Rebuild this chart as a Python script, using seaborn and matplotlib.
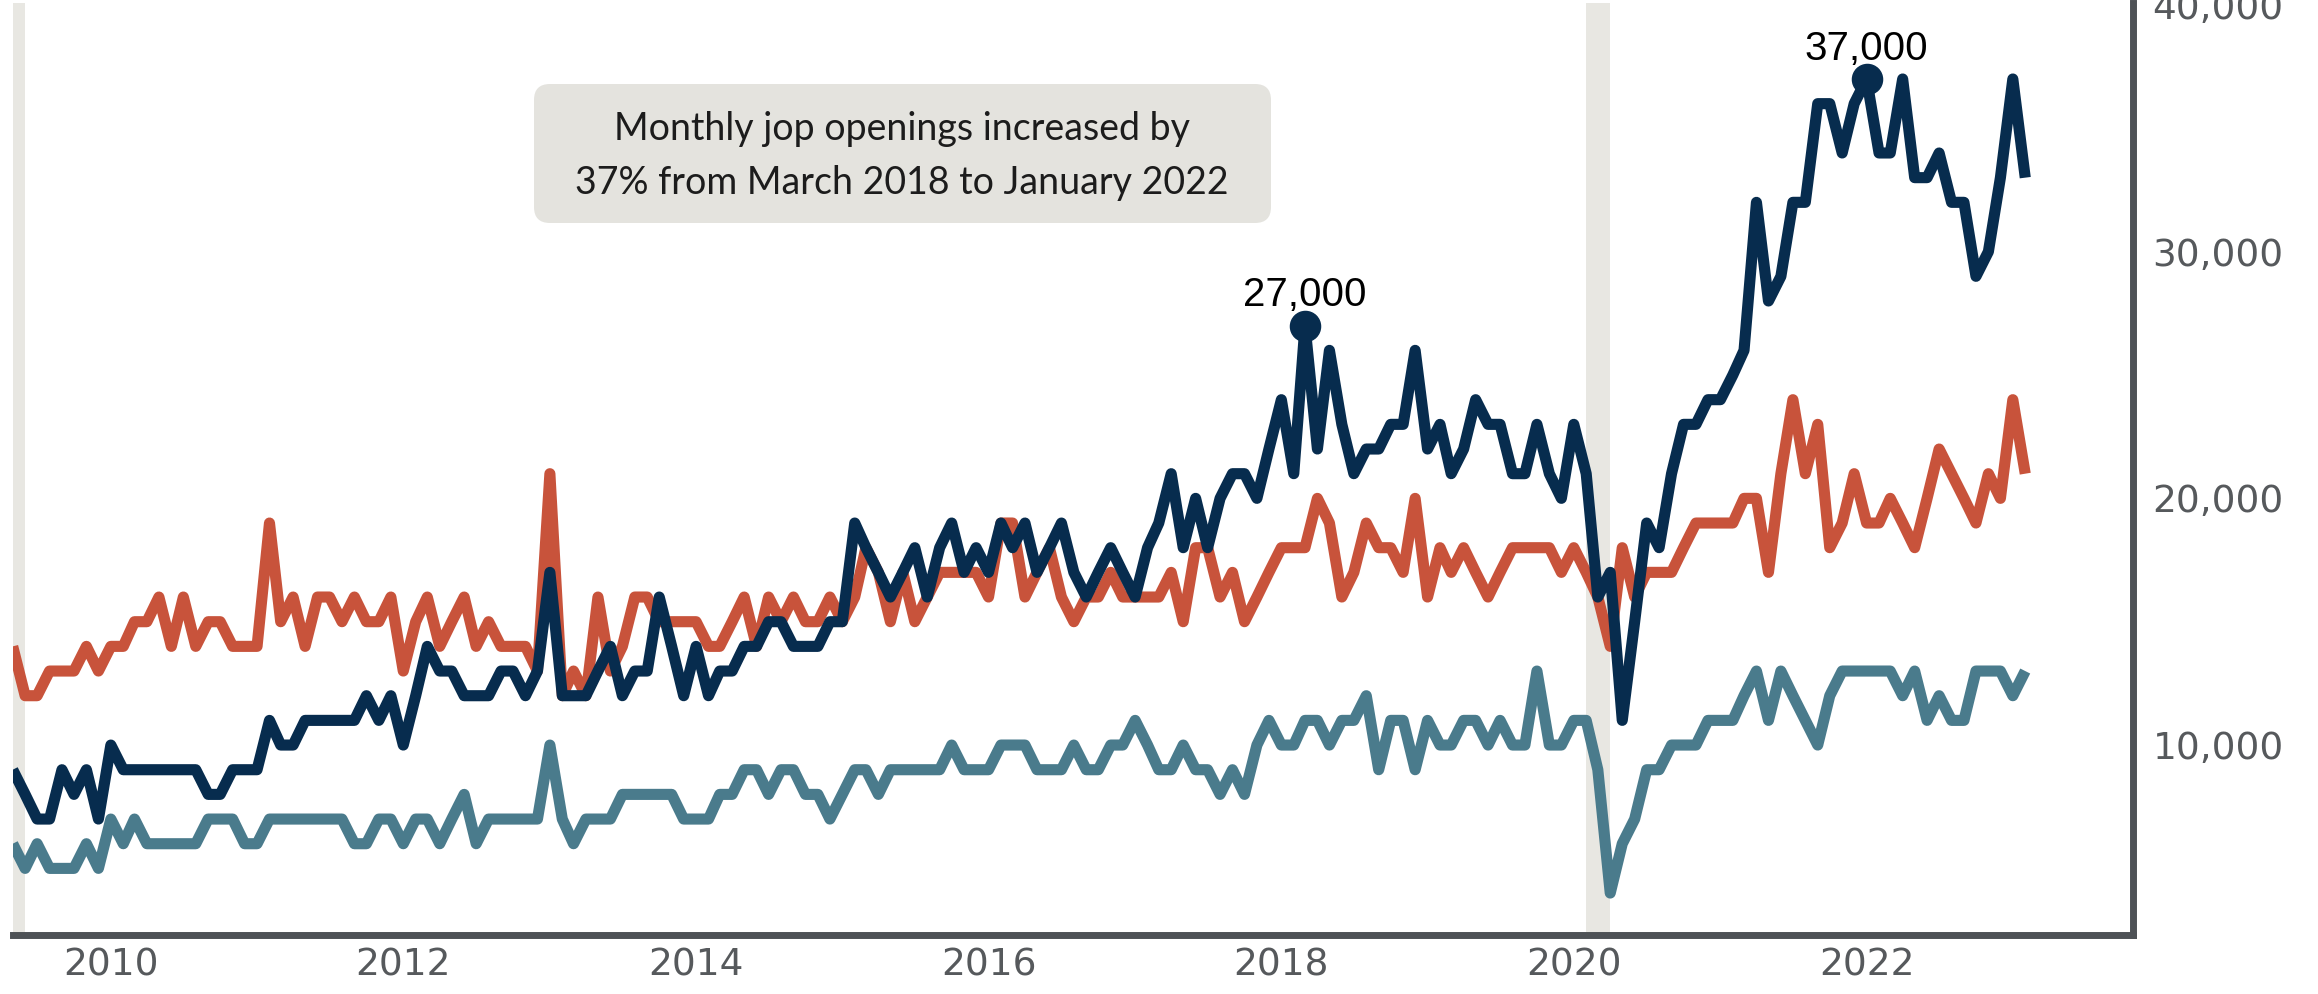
# Monthly job openings, three series, recreated with seaborn
import matplotlib
matplotlib.use("Agg")
import pandas as pd
import matplotlib.pyplot as plt
import seaborn as sns
from matplotlib.patches import FancyBboxPatch
from matplotlib.transforms import IdentityTransform

# ---- data (thousands of openings, monthly from May 2009) ----
start_month = "2009-05-01"

openings_total = [
    9, 8, 7, 7, 9, 8, 9, 7,                      # 2009 May-Dec
    10, 9, 9, 9, 9, 9, 9, 9, 8, 8, 9, 9,          # 2010
    9, 11, 10, 10, 11, 11, 11, 11, 11, 12, 11, 12,  # 2011
    10, 12, 14, 13, 13, 12, 12, 12, 13, 13, 12, 13,  # 2012
    17, 12, 12, 12, 13, 14, 12, 13, 13, 16, 14, 12,  # 2013
    14, 12, 13, 13, 14, 14, 15, 15, 14, 14, 14, 15,  # 2014
    15, 19, 18, 17, 16, 17, 18, 16, 18, 19, 17, 18,  # 2015
    17, 19, 18, 19, 17, 18, 19, 17, 16, 17, 18, 17,  # 2016
    16, 18, 19, 21, 18, 20, 18, 20, 21, 21, 20, 22,  # 2017
    24, 21, 27, 22, 26, 23, 21, 22, 22, 23, 23, 26,  # 2018
    22, 23, 21, 22, 24, 23, 23, 21, 21, 23, 21, 20,  # 2019
    23, 21, 16, 17, 11, 15, 19, 18, 21, 23, 23, 24,  # 2020
    24, 25, 26, 32, 28, 29, 32, 32, 36, 36, 34, 36,  # 2021
    37, 34, 34, 37, 33, 33, 34, 32, 32, 29, 30, 33,  # 2022
    37, 33,                                       # 2023
]

openings_b = [
    14, 12, 12, 13, 13, 13, 14, 13,
    14, 14, 15, 15, 16, 14, 16, 14, 15, 15, 14, 14,
    14, 19, 15, 16, 14, 16, 16, 15, 16, 15, 15, 16,
    13, 15, 16, 14, 15, 16, 14, 15, 14, 14, 14, 13,
    21, 12, 13, 12, 16, 13, 14, 16, 16, 15, 15, 15,
    15, 14, 14, 15, 16, 14, 16, 15, 16, 15, 15, 16,
    15, 16, 18, 17, 15, 17, 15, 16, 17, 17, 17, 17,
    16, 19, 19, 16, 17, 18, 16, 15, 16, 16, 17, 16,
    16, 16, 16, 17, 15, 18, 18, 16, 17, 15, 16, 17,
    18, 18, 18, 20, 19, 16, 17, 19, 18, 18, 17, 20,
    16, 18, 17, 18, 17, 16, 17, 18, 18, 18, 18, 17,
    18, 17, 16, 14, 18, 16, 17, 17, 17, 18, 19, 19,
    19, 19, 20, 20, 17, 21, 24, 21, 23, 18, 19, 21,
    19, 19, 20, 19, 18, 20, 22, 21, 20, 19, 21, 20,
    24, 21,
]

openings_c = [
    6, 5, 6, 5, 5, 5, 6, 5,
    7, 6, 7, 6, 6, 6, 6, 6, 7, 7, 7, 6,
    6, 7, 7, 7, 7, 7, 7, 7, 6, 6, 7, 7,
    6, 7, 7, 6, 7, 8, 6, 7, 7, 7, 7, 7,
    10, 7, 6, 7, 7, 7, 8, 8, 8, 8, 8, 7,
    7, 7, 8, 8, 9, 9, 8, 9, 9, 8, 8, 7,
    8, 9, 9, 8, 9, 9, 9, 9, 9, 10, 9, 9,
    9, 10, 10, 10, 9, 9, 9, 10, 9, 9, 10, 10,
    11, 10, 9, 9, 10, 9, 9, 8, 9, 8, 10, 11,
    10, 10, 11, 11, 10, 11, 11, 12, 9, 11, 11, 9,
    11, 10, 10, 11, 11, 10, 11, 10, 10, 13, 10, 10,
    11, 11, 9, 4, 6, 7, 9, 9, 10, 10, 10, 11,
    11, 11, 12, 13, 11, 13, 12, 11, 10, 12, 13, 13,
    13, 13, 13, 12, 13, 11, 12, 11, 11, 13, 13, 13,
    12, 13,
]

recessions = [("2009-05-01", "2009-06-01"), ("2020-02-01", "2020-04-01")]
peaks = [("2018-03-01", 27000), ("2022-01-01", 37000)]
y_ticks = [10000, 20000, 30000, 40000]
x_tick_years = [2010, 2012, 2014, 2016, 2018, 2020, 2022]
note_lines = ["Monthly jop openings increased by", "37% from March 2018 to January 2022"]

months = pd.date_range(start_month, periods=len(openings_total), freq="MS")
df = pd.DataFrame({
    "month": months,
    "total": [v * 1000 for v in openings_total],
    "b": [v * 1000 for v in openings_b],
    "c": [v * 1000 for v in openings_c],
})

navy = "#072c4e"
orange = "#c8533b"
teal = "#4a7b8c"
band = "#e8e7e2"
axis_grey = "#4e5256"
label_grey = "#56595c"

sns.set_style("white")
plt.rcParams["font.family"] = ["DejaVu Sans"]

W, H = 2318, 994
fig = plt.figure(figsize=(W / 100, H / 100), dpi=100)
ax = fig.add_axes([12.7 / W, 1 - 935 / H, (2133 - 12.7) / W, 932 / H])

for a, b in recessions:
    ax.axvspan(pd.Timestamp(a), pd.Timestamp(b), color=band, lw=0, zorder=0)

sns.lineplot(data=df, x="month", y="c", color=teal, lw=8, ax=ax)
sns.lineplot(data=df, x="month", y="b", color=orange, lw=8, ax=ax)
sns.lineplot(data=df, x="month", y="total", color=navy, lw=8, ax=ax)
for line in ax.lines:
    line.set_solid_capstyle("butt")
    line.set_solid_joinstyle("round")

# peak markers and labels
for d, v in peaks:
    ax.scatter([pd.Timestamp(d)], [v], s=470, color=navy, zorder=5, clip_on=False)
    ax.annotate(f"{v:,}", (pd.Timestamp(d), v), xytext=(0, 14), textcoords="offset points",
                ha="center", va="baseline", fontsize=29, family="Liberation Sans", color="black")

ax.set_xlim(pd.Timestamp("2009-05-01"), pd.Timestamp("2023-10-28"))
ax.set_ylim(2300, 40080)

ax.yaxis.tick_right()
ax.set_yticks(y_ticks)
ax.set_yticklabels([f"{t:,}" for t in y_ticks])
ax.set_xticks([pd.Timestamp(f"{y}-01-01") for y in x_tick_years])
ax.set_xticklabels([str(y) for y in x_tick_years])
ax.tick_params(axis="y", length=0, pad=14, labelsize=27, labelcolor=label_grey)
ax.tick_params(axis="x", length=0, pad=9, labelsize=27, labelcolor=label_grey)
ax.set_xlabel("")
ax.set_ylabel("")

for s in ["top", "left"]:
    ax.spines[s].set_visible(False)
for s in ["right", "bottom"]:
    ax.spines[s].set_color(axis_grey)
    ax.spines[s].set_linewidth(5)

# note box (pixel coordinates from the top-left of the picture)
box = FancyBboxPatch((534, H - 223), 737, 139, boxstyle="round,pad=0,rounding_size=16",
                     fc="#e4e3de", ec="none", transform=IdentityTransform())
fig.add_artist(box)
for line_text, base in zip(note_lines, [140, 194]):
    fig.text(902 / W, 1 - base / H, line_text, ha="center", va="baseline",
             fontsize=27, family="Lato", color="#1c1c1c")

fig.savefig("out.png", dpi=100)
